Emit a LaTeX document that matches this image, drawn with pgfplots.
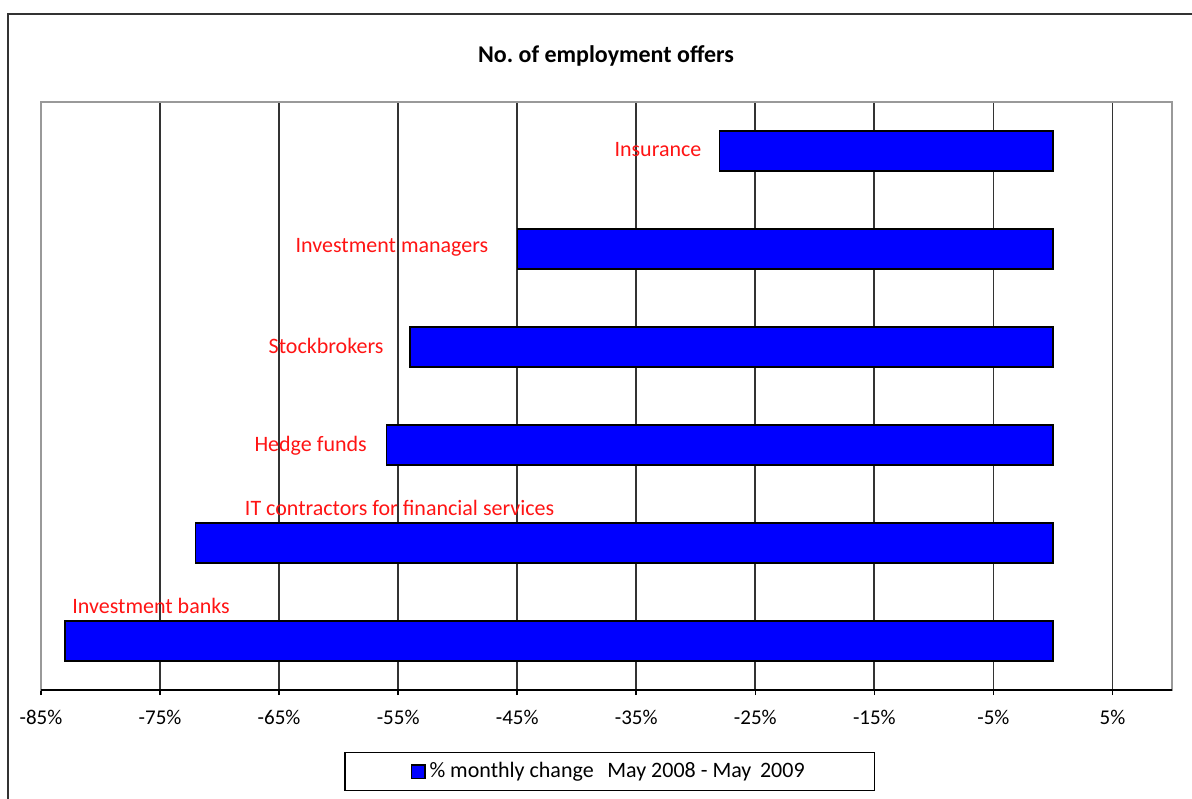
\documentclass[border=0pt]{standalone}
\usepackage{pgfplots}
\pgfplotsset{compat=1.18}
\usepackage{fontspec}
\setmainfont{Carlito}
\definecolor{barblue}{RGB}{0,0,255}
\definecolor{lblred}{RGB}{255,20,20}
\begin{document}
\begin{tikzpicture}
\useasboundingbox (-20.5pt,-54pt) rectangle (575.5pt,345pt);
\draw[line width=1pt, black!80] (-16.5pt,-80pt) -- (-16.5pt,338pt) -- (600pt,338pt);
\node[font=\bfseries\fontsize{12}{14}\selectfont] at (282.5pt,317pt) {No.\ of employment offers};
\begin{axis}[
  at={(0pt,0pt)}, anchor=south west,
  scale only axis, width=565.5pt, height=294pt,
  xmin=-85, xmax=10, ymin=-0.5, ymax=5.5,
  xbar, bar width=20pt,
  xtick={-85,-75,...,5},
  xtick pos=lower,
  xticklabel={\pgfmathprintnumber{\tick}\%},
  /pgf/number format/assume math mode=true,
  ytick=\empty,
  tick align=outside, major tick length=2.5pt,
  xtick style={black, line width=0.8pt},
  xticklabel style={font=\fontsize{10.5}{12}\selectfont, yshift=-4pt},
  xmajorgrids, major grid style={black!80, line width=0.9pt},
  axis line style={black!40, line width=0.7pt},
  clip=false,
  legend style={at={(0.503,-0.1386)}, anchor=center, draw=black, line width=0.7pt,
    font=\fontsize{11}{13}\selectfont, inner xsep=33pt, inner ysep=3pt,
    legend cell align=left},
  legend image code/.code={\draw[fill=barblue, draw=black, line width=0.6pt] (0pt,-3.3pt) rectangle (6.6pt,3.3pt);},
]
\addplot[fill=barblue, draw=black, line width=0.7pt] coordinates {
(-83,0) (-72,1) (-56,2) (-54,3) (-45,4) (-28,5)};
\addlegendentry{\% monthly change\ \ \,May 2008 - May\ \,2009}
\draw[black, line width=0.8pt] (rel axis cs:0,0) -- (rel axis cs:1,0);
\begin{scope}[every node/.style={font=\fontsize{11}{13}\selectfont, text=lblred, inner sep=0pt}]
\node[anchor=east] at (axis cs:-29.5,5.02) {Insurance};
\node[anchor=east] at (axis cs:-47.4,4.02) {Investment managers};
\node[anchor=east] at (axis cs:-56.2,3.01) {Stockbrokers};
\node[anchor=east] at (axis cs:-57.6,1.99) {Hedge funds};
\node[anchor=west] at (axis cs:-67.9,1.36) {IT contractors for financial services};
\node[anchor=west] at (axis cs:-82.4,0.357) {Investment banks};
\end{scope}
\end{axis}
\end{tikzpicture}
\end{document}
